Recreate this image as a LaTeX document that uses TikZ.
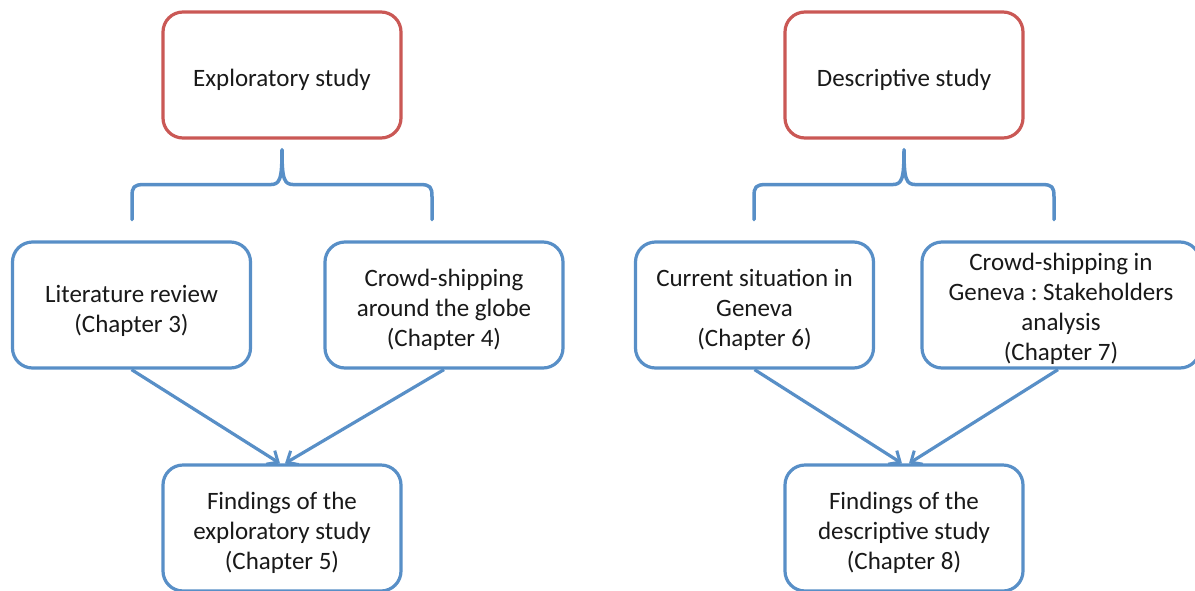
\documentclass[tikz,border=0pt]{standalone}
\usepackage{fontspec}
\setmainfont{Carlito}
\frenchspacing
\usetikzlibrary{arrows.meta,calc}
\definecolor{boxred}{RGB}{202,88,85}
\definecolor{boxblue}{RGB}{88,143,199}
\begin{document}
\begin{tikzpicture}[x=1pt,y=-1pt,
  box/.style={draw, fill=white, rounded corners=20pt, line width=3.2pt,
    minimum width=238pt, minimum height=126pt, inner sep=0pt},
  redbox/.style={box, draw=boxred},
  bluebox/.style={box, draw=boxblue},
  boxtext/.style={align=center, font=\fontsize{25}{30}\selectfont, inner sep=0pt, text=black!90},
  conn/.style={draw=boxblue, line width=3.2pt,
    -{Straight Barb[length=9pt,width=16pt,line width=3pt]}},
  bracestyle/.style={draw=boxblue, line width=3.5pt, line cap=round, line join=round}]
\useasboundingbox (0,0) rectangle (1195,590);
\clip (0,0) rectangle (1195,590);

\node[redbox] (expl) at (282,75) {};
\node[redbox] (desc) at (904,75) {};
\node[boxtext] (explt) at ([yshift=-5pt]expl.center) {Exploratory study};
\node[boxtext] (desct) at ([yshift=-5pt]desc.center) {Descriptive study};

\node[bluebox] (lit) at (131.5,305) {};
\node[bluebox] (globe) at (444,305) {};
\node[bluebox] (cur) at (754.5,305) {};
\node[bluebox, minimum width=278pt] (gen) at (1061,305) {};
\node[boxtext] (litt) at ([yshift=-6pt]lit.center) {Literature review\\(Chapter 3)};
\node[boxtext] (globet) at ([yshift=-5pt]globe.center) {Crowd-shipping\\around the globe\\(Chapter 4)};
\node[boxtext] (curt) at ([yshift=-5pt]cur.center) {Current situation in\\Geneva\\(Chapter 6)};
\node[boxtext] (gent) at ([yshift=-4pt]gen.center) {Crowd-shipping in\\Geneva : Stakeholders\\analysis\\(Chapter 7)};

\node[bluebox] (fexp) at (282,528) {};
\node[bluebox] (fdesc) at (904,528) {};
\node[boxtext] (fexpt) at ([yshift=-5pt]fexp.center) {Findings of the\\exploratory study\\(Chapter 5)};
\node[boxtext] (fdesct) at ([yshift=-5pt]fdesc.center) {Findings of the\\descriptive study\\(Chapter 8)};

% braces
\foreach \c in {expl,desc}{
  \path[bracestyle] ($(\c.south)+(-150,80)$) -- ($(\c.south)+(-150,57)$)
    .. controls ($(\c.south)+(-150,47)$) and ($(\c.south)+(-148,45)$) .. ($(\c.south)+(-138,45)$)
    -- ($(\c.south)+(-12,45)$)
    .. controls ($(\c.south)+(-2,45)$) and ($(\c.south)+(0,40)$) .. ($(\c.south)+(0,10)$)
    .. controls ($(\c.south)+(0,40)$) and ($(\c.south)+(2,45)$) .. ($(\c.south)+(12,45)$)
    -- ($(\c.south)+(138,45)$)
    .. controls ($(\c.south)+(148,45)$) and ($(\c.south)+(150,47)$) .. ($(\c.south)+(150,57)$)
    -- ($(\c.south)+(150,80)$);
}

% arrows
\draw[conn] (lit.south) -- ([xshift=-2pt]fexp.north);
\draw[conn] (globe.south) -- ([xshift=3pt]fexp.north);
\draw[conn] (cur.south) -- ([xshift=-2pt]fdesc.north);
\draw[conn] ([xshift=-3pt]gen.south) -- ([xshift=5pt]fdesc.north);
\end{tikzpicture}
\end{document}
